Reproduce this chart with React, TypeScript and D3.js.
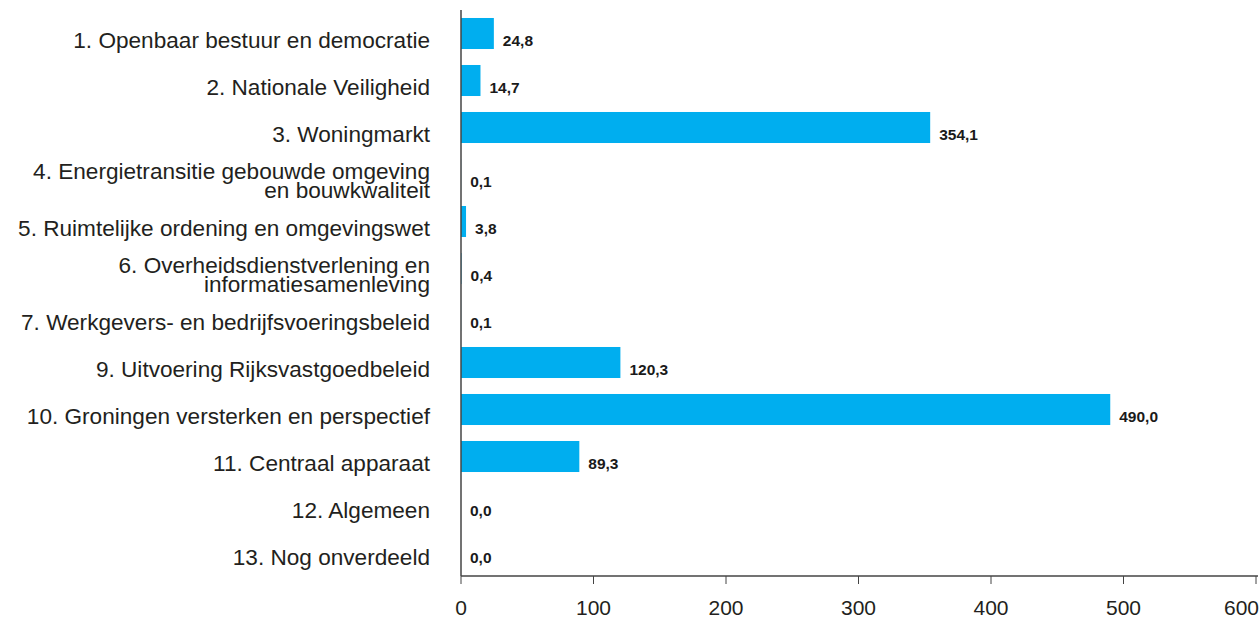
import React from "react";
import * as d3 from "d3";

const categories: string[][] = [
  ["1. Openbaar bestuur en democratie"],
  ["2. Nationale Veiligheid"],
  ["3. Woningmarkt"],
  ["4. Energietransitie gebouwde omgeving", "en bouwkwaliteit"],
  ["5. Ruimtelijke ordening en omgevingswet"],
  ["6. Overheidsdienstverlening en", "informatiesamenleving"],
  ["7. Werkgevers- en bedrijfsvoeringsbeleid "],
  ["9. Uitvoering Rijksvastgoedbeleid"],
  ["10. Groningen versterken en perspectief"],
  ["11. Centraal apparaat "],
  ["12. Algemeen"],
  ["13. Nog onverdeeld"],
];
const values: number[] = [24.8, 14.7, 354.1, 0.1, 3.8, 0.4, 0.1, 120.3, 490.0, 89.3, 0.0, 0.0];
const xTicks: number[] = [0, 100, 200, 300, 400, 500, 600];

const W = 1260;
const H = 619;
const left = 461;
const right = 1256;
const top = 10;
const bottom = 576;

export default function App() {
  const x = d3.scaleLinear().domain([0, 600]).range([left, right]);
  const ids = categories.map((_, i) => String(i));
  const y = d3
    .scaleBand<string>()
    .domain(ids)
    .range([top, bottom - 2])
    .paddingInner(0.34)
    .paddingOuter(0.17);
  const fmt = (v: number) => v.toFixed(1).replace(".", ",");
  const labelFont = "'Liberation Sans', Arial, Helvetica, sans-serif";
  const labelRight = 430;

  return (
    <svg
      width={W}
      height={H}
      style={{ position: "absolute", left: 0, top: 0, background: "#fff" }}
    >
      {values.map((v, i) => {
        const yy = y(String(i))!;
        const bw = y.bandwidth();
        const cy = yy + bw / 2;
        const lines = categories[i];
        return (
          <g key={i}>
            <rect x={x(0)} y={yy} width={x(v) - x(0)} height={bw} fill="#00AEEF" />
            <text
              x={x(v) + 9}
              y={cy + 12}
              fontFamily={labelFont}
              fontSize={15.5}
              fontWeight="bold"
              fill="#1a1a1a"
            >
              {fmt(v)}
            </text>
            <text
              x={labelRight}
              y={lines.length === 1 ? cy + 14 : cy + 4}
              textAnchor="end"
              fontFamily={labelFont}
              fontSize={22.6}
              fill="#231f20"
            >
              {lines.map((line, j) => (
                <tspan key={j} x={labelRight} dy={j === 0 ? 0 : 19}>
                  {line}
                </tspan>
              ))}
            </text>
          </g>
        );
      })}
      <line x1={left} x2={left} y1={top} y2={bottom} stroke="#444" strokeWidth={1.5} />
      <line x1={left} x2={right + 2} y1={bottom} y2={bottom} stroke="#444" strokeWidth={1.5} />
      {xTicks.map((t, k) => {
        const last = k === xTicks.length - 1;
        return (
          <g key={t}>
            <line x1={x(t)} x2={x(t)} y1={bottom} y2={bottom + 8} stroke="#444" strokeWidth={1} />
            <text
              x={last ? W - 1 : x(t)}
              y={615}
              textAnchor={last ? "end" : "middle"}
              fontFamily={labelFont}
              fontSize={21}
              fill="#231f20"
            >
              {t}
            </text>
          </g>
        );
      })}
    </svg>
  );
}
